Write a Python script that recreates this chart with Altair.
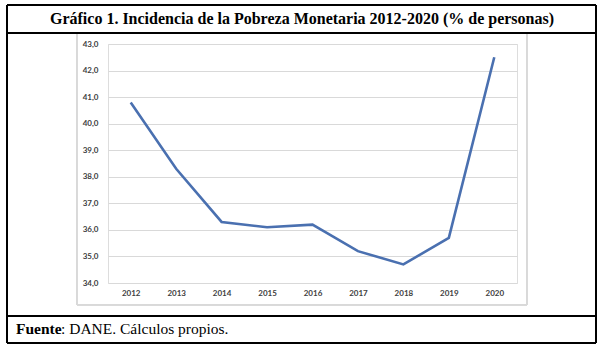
import altair as alt
import pandas as pd

years = ["2012", "2013", "2014", "2015", "2016", "2017", "2018", "2019", "2020"]
values = [40.8, 38.3, 36.3, 36.1, 36.2, 35.2, 34.7, 35.7, 42.5]
y_ticks = [34, 35, 36, 37, 38, 39, 40, 41, 42, 43]

title_text = "Gráfico 1. Incidencia de la Pobreza Monetaria 2012-2020 (% de personas)"
source_bold = "Fuente"
source_rest = ": DANE. Cálculos propios."

df = pd.DataFrame({"year": years, "value": values})

# plot area origin is at (108, 44) in page pixels
OX, OY = 108, 44
W, H = 409, 239

line = alt.Chart(df).mark_line(color="#4A70B0", strokeWidth=2.6).encode(
    x=alt.X("year:O", sort=years,
            scale=alt.Scale(type="point", padding=0.5),
            axis=alt.Axis(title=None, labelAngle=0, domain=False, ticks=False,
                          grid=False, labelPadding=6, labelFont="Lato",
                          labelFontWeight="bold", labelFontSize=8,
                          labelColor="#404040")),
    y=alt.Y("value:Q", scale=alt.Scale(domain=[34, 43], nice=False, zero=False),
            axis=alt.Axis(title=None, values=y_ticks, domain=False, ticks=False,
                          labelExpr="replace(format(datum.value, '.1f'), '.', ',')",
                          gridColor="#d9d9d9", gridWidth=1, labelPadding=10,
                          labelFont="Lato", labelFontWeight="bold", labelFontSize=8,
                          labelColor="#404040")),
)

def hrule(x1, x2, y, color="black", w=1.5):
    return alt.Chart(df).mark_rule(color=color, strokeWidth=w).encode(
        x=alt.value(x1 - OX), x2=alt.value(x2 - OX), y=alt.value(y - OY))

def vrule(x, y1, y2, color="black", w=1.5):
    return alt.Chart(df).mark_rule(color=color, strokeWidth=w).encode(
        x=alt.value(x - OX), y=alt.value(y1 - OY), y2=alt.value(y2 - OY))

g = "#d9d9d9"
borders = [
    # inner chart frame (light gray)
    hrule(77, 527, 305, g, 1), vrule(77, 34, 305, g, 1), vrule(527, 34, 305, g, 1),
    # table borders
    hrule(7, 596, 5), hrule(7, 596, 33), hrule(7, 596, 316), hrule(7, 596, 343),
    vrule(7, 5, 343), vrule(596, 5, 343),
]

tdf = pd.DataFrame({"t": [title_text]})
title = alt.Chart(tdf).mark_text(font="Liberation Serif", fontWeight="bold",
                                 fontSize=16, align="center", baseline="middle",
                                 color="black").encode(
    text="t:N", x=alt.value(302 - OX), y=alt.value(19 - OY))

sdf1 = pd.DataFrame({"t": [source_bold]})
sdf2 = pd.DataFrame({"t": [source_rest]})
src1 = alt.Chart(sdf1).mark_text(font="Liberation Serif", fontWeight="bold",
                                 fontSize=15.5, align="left", baseline="middle",
                                 color="black").encode(
    text="t:N", x=alt.value(16 - OX), y=alt.value(329 - OY))
src2 = alt.Chart(sdf2).mark_text(font="Liberation Serif", fontSize=15.5,
                                 align="left", baseline="middle",
                                 color="black").encode(
    text="t:N", x=alt.value(61 - OX), y=alt.value(329 - OY))

chart = alt.layer(line, *borders, title, src1, src2).properties(
    width=W, height=H,
    padding={"left": OX, "top": OY, "right": 605 - OX - W, "bottom": 353 - OY - H},
    autosize="none",
).configure_view(stroke=None).configure(background="white")

chart.save("out.html", embed_options={"renderer": "svg", "actions": False})
